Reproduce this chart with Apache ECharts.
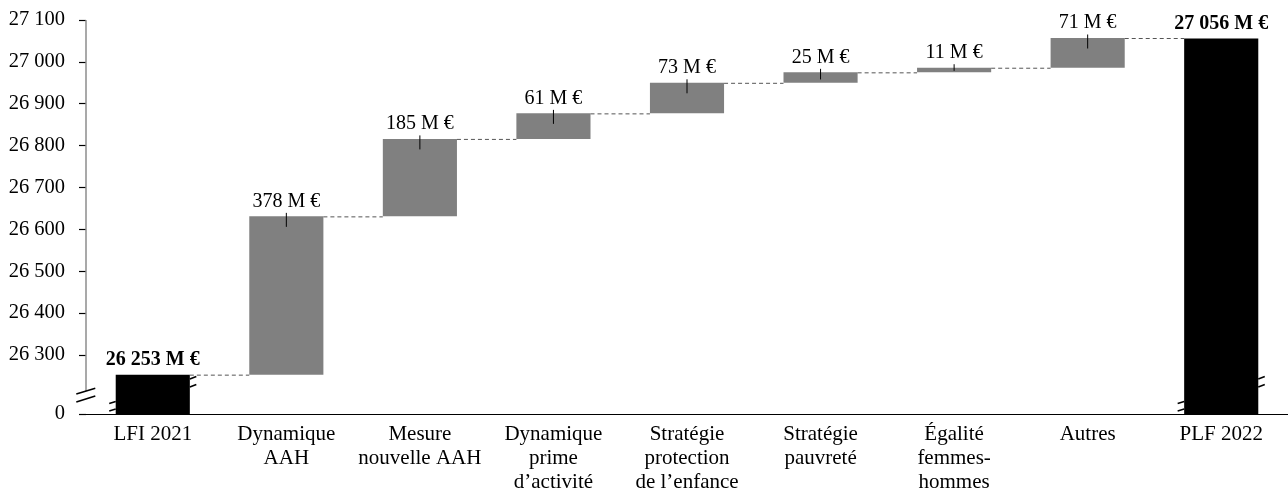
<!DOCTYPE html>
<html>
<head>
<meta charset="utf-8">
<script src="https://cdn.jsdelivr.net/npm/echarts@6/dist/echarts.min.js"></script>
<style>
html,body{margin:0;padding:0;background:#fff;}
#chart{width:1288px;height:492px;}
</style>
</head>
<body>
<div id="chart"></div>
<script>
const categories = ['LFI 2021', 'Dynamique\nAAH', 'Mesure\nnouvelle AAH', 'Dynamique\nprime\nd’activité', 'Stratégie\nprotection\nde l’enfance', 'Stratégie\npauvreté', 'Égalité\nfemmes-\nhommes', 'Autres', 'PLF 2022'];
const startTotal = 26253;
const changes = [378, 185, 61, 73, 25, 11, 71];
const endTotal = 27056;
const yTicks = [26300, 26400, 26500, 26600, 26700, 26800, 26900, 27000, 27100];
const axisZeroAt = 26159; // value where the broken axis shows "0"
const yMax = 27100;

const FONT = 'Liberation Serif';
function fmt(v) { return String(v).replace(/\B(?=(\d{3})+(?!\d))/g, ' '); }

// build waterfall items: [index, low, high, isTotal]
const bars = [];
const labels = [];
bars.push([0, axisZeroAt, startTotal, 1]);
labels.push(fmt(startTotal) + ' M €');
let cum = startTotal;
changes.forEach((c, k) => {
  bars.push([k + 1, cum, cum + c, 0]);
  labels.push(c + ' M €');
  cum += c;
});
bars.push([categories.length - 1, axisZeroAt, endTotal, 1]);
labels.push(fmt(endTotal) + ' M €');

function renderItem(params, api) {
  const i = api.value(0), lo = api.value(1), hi = api.value(2), tot = api.value(3);
  const band = api.size([1, 0])[0];
  const bw = band * 0.555;
  const pTop = api.coord([i, hi]);
  const pBot = api.coord([i, lo]);
  const cx = pTop[0];
  const x0 = cx - bw / 2, x1 = cx + bw / 2;
  const h = pBot[1] - pTop[1];
  const children = [];
  children.push({
    type: 'rect',
    shape: { x: x0, y: pTop[1], width: bw, height: h },
    style: { fill: tot ? '#000000' : '#808080' }
  });
  if (!tot) {
    children.push({
      type: 'line',
      shape: { x1: cx, y1: pTop[1] - 3.5, x2: cx, y2: pTop[1] + Math.min(10.5, h * 0.68) },
      style: { stroke: '#000', lineWidth: 1 }
    });
  }
  if (params.dataIndex < bars.length - 1) {
    const nx = api.coord([i + 1, hi])[0];
    children.push({
      type: 'line',
      shape: { x1: x1, y1: pTop[1] + 0.5, x2: nx - bw / 2, y2: pTop[1] + 0.5 },
      style: { stroke: '#555', lineWidth: 1, lineDash: [4, 3] }
    });
  }
  children.push({
    type: 'text',
    style: {
      x: cx, y: pTop[1] - 5,
      text: labels[params.dataIndex],
      align: 'center', verticalAlign: 'bottom',
      fill: '#000',
      font: (tot ? 'bold ' : '') + '20px "' + FONT + '"'
    }
  });
  if (tot) {
    const b = pBot[1];
    const marks = [
      [x0 - 6.5, b - 10.5, x0, b - 12.5],
      [x0 - 6.5, b - 3, x0, b - 5],
      [x1, b - 35, x1 + 6.5, b - 37.5],
      [x1, b - 27, x1 + 6.5, b - 29.5]
    ];
    marks.forEach(m => children.push({
      type: 'line', shape: { x1: m[0], y1: m[1], x2: m[2], y2: m[3] },
      style: { stroke: '#000', lineWidth: 1.6 }
    }));
  }
  if (params.dataIndex === 0) {
    const ax = cx - band / 2;
    const b = pBot[1];
    const topY = api.coord([i, yMax])[1];
    children.push({
      type: 'line', shape: { x1: ax, y1: topY, x2: ax, y2: b - 23 },
      style: { stroke: '#8c8c8c', lineWidth: 1.5 }
    });
    [[ax - 9.7, b - 20, ax + 9.3, b - 25.7], [ax - 9.7, b - 12, ax + 9.3, b - 18]].forEach(m => children.push({
      type: 'line', shape: { x1: m[0], y1: m[1], x2: m[2], y2: m[3] },
      style: { stroke: '#000', lineWidth: 1.6 }
    }));
  }
  return { type: 'group', children: children };
}

const chart = echarts.init(document.getElementById('chart'));
chart.setOption({
  animation: false,
  backgroundColor: '#fff',
  grid: { left: 86, right: 0, top: 20, bottom: 78, containLabel: false, outerBoundsMode: 'none' },
  xAxis: {
    type: 'category',
    data: categories,
    boundaryGap: true,
    axisLine: { show: true, lineStyle: { color: '#000', width: 1.2 } },
    axisTick: { show: false },
    axisLabel: {
      interval: 0, color: '#000', fontFamily: FONT, fontSize: 21,
      lineHeight: 24, margin: 8
    }
  },
  yAxis: {
    type: 'value',
    min: axisZeroAt,
    max: yMax,
    splitLine: { show: false },
    axisLine: { show: false },
    axisTick: {
      show: true, length: 7, lineStyle: { color: '#000', width: 1.2 },
      customValues: [axisZeroAt].concat(yTicks)
    },
    axisLabel: {
      color: '#000', fontFamily: FONT, fontSize: 20.5, margin: 21,
      customValues: [axisZeroAt].concat(yTicks),
      formatter: v => (v === axisZeroAt ? '0' : fmt(v))
    }
  },
  series: [{
    type: 'custom',
    renderItem: renderItem,
    encode: { x: 0, y: [1, 2] },
    data: bars,
    clip: false,
    z: 5
  }]
});
</script>
</body>
</html>
